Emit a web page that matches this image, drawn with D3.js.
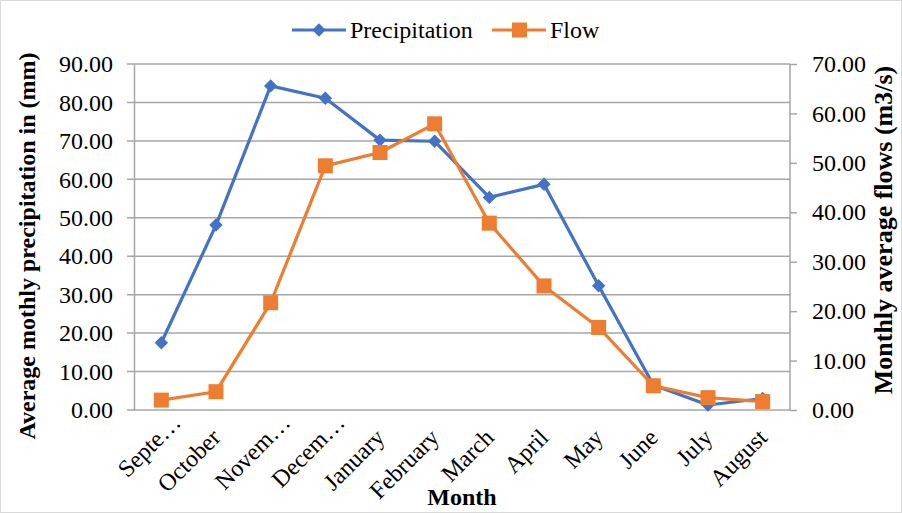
<!DOCTYPE html>
<html>
<head>
<meta charset="utf-8">
<script src="https://cdn.jsdelivr.net/npm/d3@7"></script>
<style>
  body { margin: 0; background: #fff; }
  text { font-family: "Liberation Serif", "Times New Roman", serif; fill: #000; }
</style>
</head>
<body>
<div id="chart"></div>
<script>
// data
var months = ["Septe…", "October", "Novem…", "Decem…", "January", "February",
  "March", "April", "May", "June", "July", "August"];
var precipitation = [17.5, 48.1, 84.3, 81.1, 70.2, 69.9, 55.3, 58.7, 32.3, 6.5, 1.3, 3.0];
var flow = [2.0, 3.7, 21.7, 49.4, 52.1, 57.9, 37.8, 25.1, 16.7, 4.9, 2.5, 1.7];
var leftTicks = [0, 10, 20, 30, 40, 50, 60, 70, 80, 90];
var rightTicks = [0, 10, 20, 30, 40, 50, 60, 70];

var W = 902, H = 513;
var margin = {top: 64, right: 112, bottom: 103, left: 134},
  width = W - margin.left - margin.right,
  height = H - margin.top - margin.bottom;

var blue = "#4472c4", orange = "#ed7d31", grid = "#a6a6a6";
var fs = "24px";

var svg = d3.select("#chart")
.append("svg")
  .attr("width", W)
  .attr("height", H);

// outer border
svg.append("rect")
  .attr("x", 0.5).attr("y", 0.5)
  .attr("width", W - 1).attr("height", H - 1)
  .attr("fill", "none")
  .attr("stroke", "#d9d9d9");

var g = svg.append("g")
  .attr("transform", "translate(" + margin.left + "," + margin.top + ")");

var x = d3.scaleBand().domain(months).range([0, width]);
var yL = d3.scaleLinear().domain([0, 90]).range([height, 0]);
var yR = d3.scaleLinear().domain([0, 70]).range([height, 0]);

// gridlines
g.selectAll(".grid")
  .data(leftTicks)
  .enter()
  .append("line")
    .attr("x1", -7)
    .attr("x2", width)
    .attr("y1", function(d) { return yL(d); })
    .attr("y2", function(d) { return yL(d); })
    .attr("stroke", grid)
    .attr("stroke-width", 1.5);

// left axis
var left = g.append("g")
  .call(d3.axisLeft(yL).tickValues(leftTicks).tickSize(0).tickPadding(21)
    .tickFormat(d3.format(".2f")));
left.select(".domain").attr("stroke", grid).attr("stroke-width", 1.5);
left.selectAll("text").attr("font-size", fs).attr("font-family", "Liberation Serif");

// right axis
var right = g.append("g")
  .attr("transform", "translate(" + width + ",0)")
  .call(d3.axisRight(yR).tickValues(rightTicks).tickSize(7).tickPadding(15)
    .tickFormat(d3.format(".2f")));
right.select(".domain").attr("stroke", grid).attr("stroke-width", 1.5)
  .attr("d", "M0,0V" + height);
right.selectAll("line").attr("stroke", grid).attr("stroke-width", 1.5);
right.selectAll("text").attr("font-size", fs).attr("font-family", "Liberation Serif");

// x labels (the cut-off ones sit a bit further along the slant)
g.selectAll(".xlab")
  .data(months)
  .enter()
  .append("text")
    .attr("transform", function(d) {
      var cut = d.slice(-1) == "…";
      var px = x(d) + x.bandwidth() / 2 + (cut ? 15 : 0);
      var py = height + (cut ? 8 : 23);
      return "translate(" + px + "," + py + ") rotate(-45)";
    })
    .attr("text-anchor", "end")
    .attr("dy", "0.35em")
    .attr("font-size", fs)
    .text(function(d) { return d; });

// lines
var cx = function(d, i) { return x(months[i]) + x.bandwidth() / 2; };

g.append("path")
  .datum(precipitation)
  .attr("fill", "none")
  .attr("stroke", blue)
  .attr("stroke-width", 3.2)
  .attr("stroke-linejoin", "round")
  .attr("d", d3.line().x(cx).y(function(d) { return yL(d); }));

g.append("path")
  .datum(flow)
  .attr("fill", "none")
  .attr("stroke", orange)
  .attr("stroke-width", 3.2)
  .attr("stroke-linejoin", "round")
  .attr("d", d3.line().x(cx).y(function(d) { return yR(d); }));

g.selectAll(".pdot")
  .data(precipitation)
  .enter()
  .append("path")
    .attr("d", d3.symbol().type(d3.symbolSquare).size(90))
    .attr("transform", function(d, i) { return "translate(" + cx(d, i) + "," + yL(d) + ") rotate(45)"; })
    .attr("fill", blue);

g.selectAll(".fdot")
  .data(flow)
  .enter()
  .append("rect")
    .attr("x", function(d, i) { return cx(d, i) - 7.5; })
    .attr("y", function(d) { return yR(d) - 7.5; })
    .attr("width", 15)
    .attr("height", 15)
    .attr("fill", orange);

// axis titles
svg.append("text")
  .attr("transform", "translate(35,246) rotate(-90)")
  .attr("text-anchor", "middle")
  .attr("font-size", fs)
  .attr("font-weight", "bold")
  .text("Average mothly precipitation in (mm)");

svg.append("text")
  .attr("transform", "translate(892,230) rotate(-90)")
  .attr("text-anchor", "middle")
  .attr("font-size", "26px")
  .attr("font-weight", "bold")
  .text("Monthly average flows (m3/s)");

svg.append("text")
  .attr("x", 462)
  .attr("y", 505)
  .attr("text-anchor", "middle")
  .attr("font-size", fs)
  .attr("font-weight", "bold")
  .text("Month");

// legend
var legend = [{name: "Precipitation", color: blue, x: 292}, {name: "Flow", color: orange, x: 492}];
var lg = svg.selectAll(".legend")
  .data(legend)
  .enter()
  .append("g")
    .attr("transform", function(d) { return "translate(" + d.x + ",30)"; });
lg.append("line")
  .attr("x1", 0).attr("x2", 54)
  .attr("stroke", function(d) { return d.color; })
  .attr("stroke-width", 3.2);
lg.filter(function(d, i) { return i == 0; })
  .append("path")
    .attr("d", d3.symbol().type(d3.symbolSquare).size(90))
    .attr("transform", "translate(27,0) rotate(45)")
    .attr("fill", blue);
lg.filter(function(d, i) { return i == 1; })
  .append("rect")
    .attr("x", 20).attr("y", -7.5).attr("width", 15).attr("height", 15)
    .attr("fill", orange);
lg.append("text")
  .attr("x", 58)
  .attr("y", 0)
  .attr("dy", "0.33em")
  .attr("font-size", fs)
  .text(function(d) { return d.name; });
</script>
</body>
</html>
